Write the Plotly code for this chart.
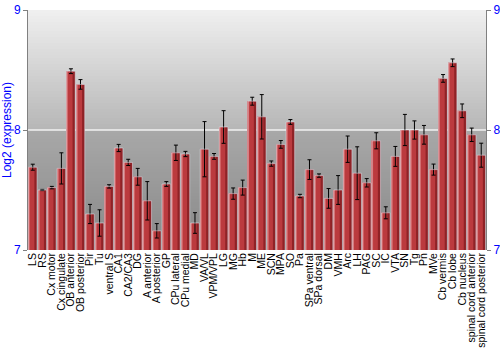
import plotly.graph_objects as go

regions = ["LS", "RS", "Cx motor", "Cx cingulate", "OB anterior", "OB posterior", "Pir", "Tu",
           "ventral S", "CA1", "CA2/CA3", "DG", "A anterior", "A posterior", "GP", "CPu lateral",
           "CPu medial", "MD", "VA/VL", "VPM/VPL", "LG", "MG", "Hb", "M", "ME", "SCN", "MPA", "SO",
           "Pa", "SPa ventral", "SPa dorsal", "DM", "VMH", "Arc", "LH", "PAG", "SC", "IC", "VTA",
           "SN", "Tg", "Pn", "MVe", "Cb vermis", "Cb lobe", "Cb nucleus", "spinal cord anterior",
           "spinal cord posterior"]

expression = [7.69, 7.50, 7.52, 7.68, 8.49, 8.38, 7.30, 7.225,
              7.53, 7.85, 7.73, 7.61, 7.41, 7.16, 7.55, 7.81,
              7.80, 7.225, 7.84, 7.78, 8.025, 7.47, 7.52, 8.24, 8.11, 7.72, 7.88, 8.067,
              7.45, 7.67, 7.62, 7.43, 7.50, 7.84, 7.64, 7.56, 7.91, 7.31, 7.78,
              8.00, 8.00, 7.96, 7.67, 8.43, 8.56, 8.16, 7.96,
              7.79]

error = [0.025, 0.005, 0.01, 0.13, 0.02, 0.04, 0.08, 0.11,
         0.014, 0.03, 0.026, 0.07, 0.16, 0.06, 0.02, 0.064,
         0.022, 0.086, 0.23, 0.024, 0.136, 0.047, 0.0625, 0.033, 0.185, 0.022, 0.032, 0.02,
         0.014, 0.082, 0.014, 0.082, 0.12, 0.11, 0.22, 0.035, 0.067, 0.05, 0.083,
         0.13, 0.076, 0.078, 0.046, 0.032, 0.032, 0.057, 0.056,
         0.10]

y_ticks = [7, 8, 9]

fig = go.Figure()

W = 0.9
# dark base bar
fig.add_trace(go.Bar(
    x=regions, y=expression,
    marker=dict(color="#8f2226", line=dict(width=0)),
    width=W, hoverinfo="skip", showlegend=False,
))
# main body, lighter left part for a shaded look
fig.add_trace(go.Bar(
    x=regions, y=expression,
    marker=dict(color="#bb3a3e", line=dict(width=0)),
    width=0.62, offset=-W / 2, hoverinfo="skip", showlegend=False,
))
fig.add_trace(go.Bar(
    x=regions, y=expression,
    marker=dict(color="#d06264", line=dict(width=0)),
    width=0.12, offset=-W / 2, hoverinfo="skip", showlegend=False,
))
# error bars
fig.add_trace(go.Bar(
    x=regions, y=expression,
    marker=dict(color="rgba(0,0,0,0)", line=dict(width=0)),
    width=W, showlegend=False,
    error_y=dict(type="data", array=error, color="black", thickness=1, width=2),
))
# invisible copy for the right axis
fig.add_trace(go.Bar(
    x=regions, y=expression, yaxis="y2",
    marker=dict(color="rgba(0,0,0,0)"), width=W,
    hoverinfo="skip", showlegend=False,
))

# vertical gray gradient background (two segments)
shapes = []
def lerp(c1, c2, t):
    return int(round(c1 + (c2 - c1) * t))
n = 40
for seg_lo, seg_hi, c_top, c_bot in [(8.0, 9.0, 0xf0, 0xb6), (7.0, 8.0, 0xa8, 0x88)]:
    step = (seg_hi - seg_lo) / n
    for i in range(n):
        y1 = seg_hi - step * i
        y0 = max(seg_lo, y1 - step * 1.6)
        v = lerp(c_top, c_bot, (i + 0.5) / n)
        shapes.append(dict(type="rect", xref="paper", yref="y", x0=0, x1=1, y0=y0, y1=y1,
                           fillcolor=f"rgb({v},{v},{v})", line=dict(width=0), layer="below"))
# light gridline at 8
shapes.append(dict(type="line", xref="paper", yref="y", x0=0, x1=1, y0=8, y1=8,
                   line=dict(color="#f2f2f2", width=1.5), layer="below"))

fig.update_layout(
    width=500, height=350,
    margin=dict(l=28, r=14, t=10, b=100),
    paper_bgcolor="white", plot_bgcolor="#aaaaaa",
    barmode="overlay",
    font=dict(family="Liberation Sans, Arial, sans-serif", size=11, color="black"),
    shapes=shapes,
    xaxis=dict(tickangle=-90, tickfont=dict(size=10.5, color="black"), showgrid=False,
               tickmode="array", tickvals=regions, ticktext=regions,
               ticks="", showline=False, range=[-0.5, len(regions) - 0.5], automargin=False),
    yaxis=dict(range=[7, 9], tickvals=y_ticks, ticktext=[str(t) for t in y_ticks],
               tickfont=dict(size=12, color="#0000ff"), showgrid=False,
               zeroline=False, showline=True, linecolor="#808080", linewidth=1,
               ticks="outside", ticklen=4, tickcolor="#808080", automargin=False,
               title=dict(text="Log2 (expression)", font=dict(size=12, color="#0000ff"), standoff=3)),
    yaxis2=dict(range=[7, 9], overlaying="y", side="right", tickvals=y_ticks,
                tickfont=dict(size=12, color="#0000ff"), showgrid=False, zeroline=False,
                showline=True, linecolor="#808080", linewidth=1, ticks="outside", ticklen=4,
                tickcolor="#808080", automargin=False),
)

fig.write_html("out.html")
